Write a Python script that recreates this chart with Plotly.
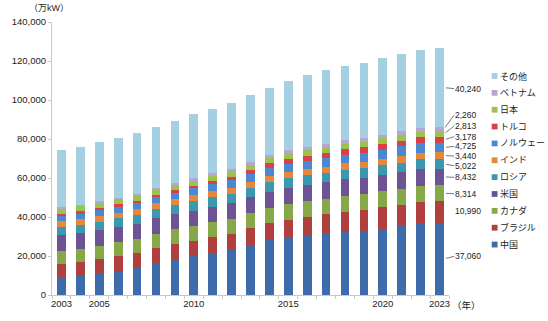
import plotly.graph_objects as go

# ---------------- data (万kW) ----------------
years = [str(y) for y in range(2003, 2024)]
year_ticktext = ["2003", "", "2005", "", "", "", "", "2010", "", "", "", "", "2015",
                 "", "", "", "", "2020", "", "", "2023"]

china    = [9040, 9860, 11170, 12490, 13800, 16430, 18400, 19880, 21520, 22840, 25800,
            28260, 29410, 30400, 31220, 32370, 32860, 34010, 35320, 36800, 37060]
brazil   = [6700, 6900, 7100, 7300, 7500, 7600, 7700, 7900, 8050, 8250, 8500,
            8750, 9200, 9700, 10100, 10300, 10700, 10900, 10900, 10950, 10990]
canada   = [7000, 7050, 7100, 7250, 7350, 7450, 7500, 7550, 7650, 7750, 7700,
            7800, 8000, 8050, 8100, 8250, 8250, 8300, 8300, 8300, 8314]
usa      = [7800, 7750, 7750, 7750, 7800, 7800, 7900, 8000, 8050, 8100, 8150,
            8200, 8200, 8250, 8300, 8350, 8350, 8400, 8400, 8450, 8432]
russia   = [4500, 4550, 4550, 4550, 4600, 4650, 4650, 4700, 4750, 4800, 4900,
            4950, 5050, 5050, 5000, 5050, 5000, 5000, 5000, 5000, 5022]
india    = [2800, 2900, 2900, 2950, 3000, 3050, 3050, 3050, 3150, 3250, 3000,
            3100, 3250, 3250, 3150, 3150, 3250, 3300, 3400, 3450, 3440]
norway   = [2650, 2750, 2800, 2950, 3050, 3150, 3250, 3550, 3700, 3800, 3900,
            4050, 4100, 4150, 4350, 4500, 4550, 4550, 4850, 4900, 4725]
turkey   = [1200, 1250, 1300, 1300, 1300, 1350, 1400, 1500, 1650, 1900, 2250,
            2400, 2550, 2650, 2750, 2850, 2900, 3050, 3050, 3100, 3178]
japan    = [2800, 2800, 2750, 2850, 2900, 2950, 2900, 2800, 2800, 2800, 2700,
            2700, 2700, 2800, 2750, 2750, 2800, 2750, 2750, 2700, 2813]
vietnam  = [500, 550, 550, 600, 650, 700, 750, 900, 1000, 1150, 1350,
            1500, 1650, 1700, 1800, 1800, 1900, 2000, 2150, 2250, 2260]
others   = [29189, 29540, 30514, 30350, 31050, 30970, 31600, 32757, 32880, 33710, 34550,
            34690, 35841, 37000, 37680, 37930, 38540, 39027, 39480, 39800, 40240]

series_names = ["中国", "ブラジル", "カナダ", "米国", "ロシア", "インド",
                "ノルウェー", "トルコ", "日本", "ベトナム", "その他"]
series_values = [china, brazil, canada, usa, russia, india,
                 norway, turkey, japan, vietnam, others]

total_label_years = ["2003", "2005", "2010", "2015", "2020", "2023"]
total_label_values = [74179, 78484, 92587, 109951, 121287, 126474]

# ---------------- style ----------------
colors = ["#3E6BAA", "#B0403D", "#86A848", "#6D5394", "#3A98B0", "#E4893B",
          "#4A89D2", "#D8414A", "#9DC34E", "#B7A6D0", "#A5D0E2"]
FONT = "Liberation Sans, Arial, Noto Sans CJK JP, sans-serif"
TXT = "#222222"

W, H = 548, 321
L, R, T, B = 40, 449, 22, 305   # plot area in pixels
YMAX = 140000


def px_x(px):
    return (px - L) / (R - L)


def px_y(py):
    return (B - py) / (B - T)


fig = go.Figure()
for name, vals, col in zip(series_names, series_values, colors):
    fig.add_trace(go.Bar(x=years, y=vals, name=name, marker_color=col,
                         marker_line_width=0, showlegend=False))

annotations = []
shapes = []

# totals above selected bars
for yr, val in zip(total_label_years, total_label_values):
    annotations.append(dict(x=yr, y=val, xref="x", yref="y", text=f"{val:,}",
                            showarrow=False, yanchor="bottom", yshift=1,
                            font=dict(family=FONT, size=9.5, color=TXT)))

# 2023 segment labels with leader lines
label_y_px = [265, 218, 200, 183, 171, 161, 151, 141, 130, 119, 91]
leader = [True, False, True, True, True, True, True, True, True, True, True]
last = len(years) - 1
bar_half = 0.23
head_px = L + (last + 0.5 + bar_half) * (R - L) / len(years)
cum = 0
for vals, ly, show in zip(series_values, label_y_px, leader):
    v = vals[last]
    mid = cum + v / 2
    cum += v
    mid_px = B - mid / YMAX * (B - T)
    annotations.append(dict(x=last + bar_half, y=mid, xref="x", yref="y",
                            text=f"{v:,}", showarrow=True, arrowhead=0,
                            arrowwidth=0.8,
                            arrowcolor="#555555" if show else "rgba(0,0,0,0)",
                            ax=454 - head_px, ay=ly - mid_px, standoff=2,
                            xanchor="left", yanchor="middle", borderpad=0,
                            font=dict(family=FONT, size=8.5, color=TXT)))

# custom legend (top: その他 ... bottom: 中国)
for i, idx in enumerate(range(len(series_names) - 1, -1, -1)):
    cy = 78 + i * 17.47
    shapes.append(dict(type="rect", xref="paper", yref="paper",
                       x0=px_x(493), x1=px_x(499), y0=px_y(cy + 3), y1=px_y(cy - 3),
                       fillcolor=colors[idx], line_width=0))
    annotations.append(dict(x=px_x(501), y=px_y(cy), xref="paper", yref="paper",
                            text=series_names[idx], showarrow=False,
                            xanchor="left", yanchor="middle", borderpad=0,
                            font=dict(family=FONT, size=9, color=TXT)))

# unit labels
annotations.append(dict(x=px_x(14), y=px_y(7), xref="paper", yref="paper",
                        text="（万kW）", showarrow=False, xanchor="left",
                        yanchor="middle", font=dict(family=FONT, size=9, color=TXT)))
annotations.append(dict(x=px_x(467), y=px_y(316), xref="paper", yref="paper",
                        text="（年）", showarrow=False, xanchor="center",
                        yanchor="middle", font=dict(family=FONT, size=9.5, color=TXT)))

fig.update_layout(
    width=W, height=H,
    margin=dict(l=L, r=W - R, t=T, b=H - B),
    paper_bgcolor="white", plot_bgcolor="white",
    barmode="stack", bargap=0.54,
    font=dict(family=FONT, size=9.5, color=TXT),
    annotations=annotations, shapes=shapes,
    xaxis=dict(type="category", tickmode="array", tickvals=years,
               ticktext=year_ticktext, tickson="boundaries", tickangle=0,
               ticks="outside", ticklen=3, tickcolor="#c8c8c8",
               showline=True, linecolor="#c8c8c8", linewidth=1,
               showgrid=False, tickfont=dict(size=9.5, color=TXT),
               range=[-0.5, len(years) - 0.5]),
    yaxis=dict(range=[0, YMAX], dtick=20000, tickformat=",",
               ticks="outside", ticklen=3, tickcolor="#c8c8c8",
               showline=True, linecolor="#c8c8c8", linewidth=1,
               showgrid=False, zeroline=False,
               tickfont=dict(size=9.5, color=TXT)),
)

fig.write_html("out.html")
